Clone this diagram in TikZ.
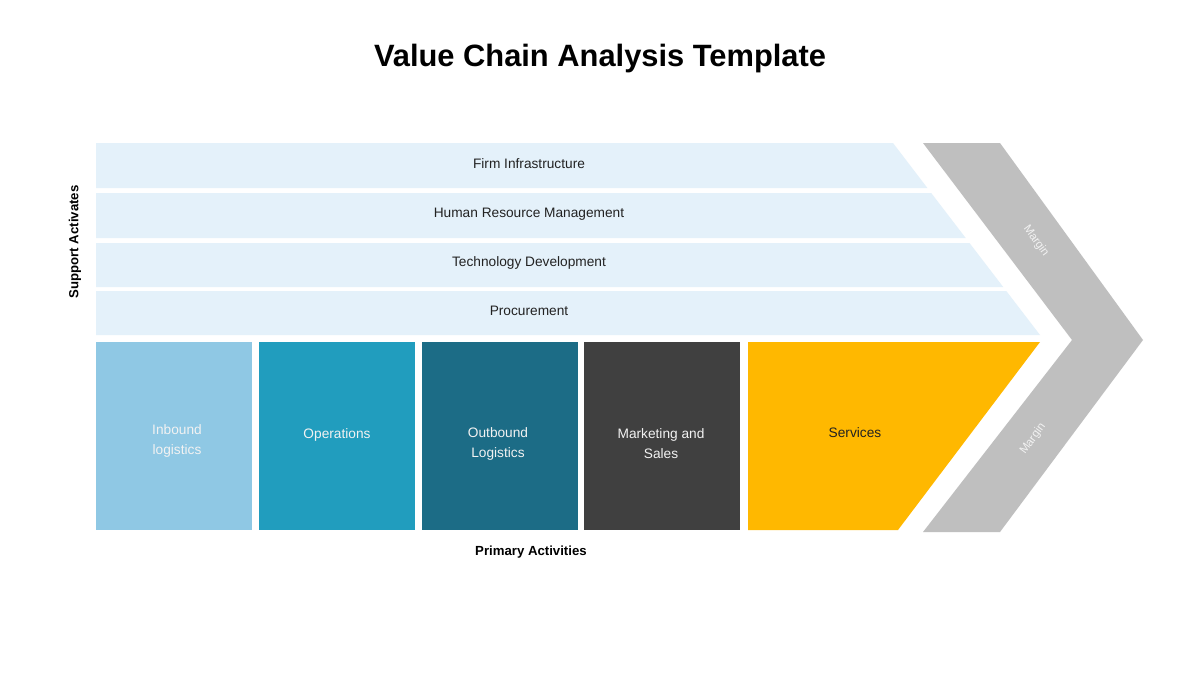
\documentclass[tikz,border=0pt]{standalone}
\usepackage{fontspec}
\setmainfont{Liberation Sans}
\usepackage{graphicx}
\definecolor{supbg}{HTML}{E4F1FA}
\definecolor{pinb}{HTML}{8FC8E4}
\definecolor{pops}{HTML}{219DBE}
\definecolor{pout}{HTML}{1C6C86}
\definecolor{pmkt}{HTML}{404040}
\definecolor{psrv}{HTML}{FFB800}
\definecolor{marg}{HTML}{BFBFBF}
\definecolor{txt}{HTML}{222222}
\definecolor{wtxt}{HTML}{F2F2F2}
\tikzset{
  suptext/.style={font=\fontsize{13.7}{15}\selectfont, text=txt, inner sep=0pt},
  primtext/.style={font=\fontsize{13.7}{20}\selectfont, text=wtxt, align=center, inner sep=0pt},
  margtext/.style={font=\fontsize{11.5}{13}\selectfont, text=wtxt, inner sep=0pt},
  axislabel/.style={font=\bfseries\fontsize{13.2}{15}\selectfont, text=black, inner sep=0pt},
}
\begin{document}
\begin{tikzpicture}[x=1pt,y=-1pt]
\useasboundingbox[fill=white] (0,0) rectangle (1200,675);
% title
\node[font=\bfseries\fontsize{28}{32}\selectfont, inner sep=0pt] (title) at (600,59) {\resizebox{452pt}{!}{Value Chain Analysis Template}};
% support bars
\fill[supbg] (96,143) -- (893,143) -- (927.4,188) -- (96,188) -- cycle;
\fill[supbg] (96,193) -- (931.2,193) -- (965.7,238) -- (96,238) -- cycle;
\fill[supbg] (96,243) -- (969.5,243) -- (1003.2,287) -- (96,287) -- cycle;
\fill[supbg] (96,291) -- (1006.3,291) -- (1040,335) -- (96,335) -- cycle;
\node[suptext] (firm) at (529,164) {Firm Infrastructure};
\node[suptext] (hrm) at (529,214) {Human Resource Management};
\node[suptext] (tech) at (529,263) {Technology Development};
\node[suptext] (proc) at (529,311) {Procurement};
% primary boxes
\fill[pinb] (96,342) rectangle (252,530);
\fill[pops] (259,342) rectangle (415,530);
\fill[pout] (422,342) rectangle (578,530);
\fill[pmkt] (584,342) rectangle (740,530);
\fill[psrv] (748,342) -- (1040,342) -- (898,530) -- (748,530) -- cycle;
\node[primtext] (inb) at (177,441) {Inbound\\logistics};
\node[primtext] (ops) at (337,435) {Operations};
\node[primtext] (outb) at (498,444) {Outbound\\Logistics};
\node[primtext] (mkt) at (661,444) {Marketing and\\Sales};
\node[primtext, text=txt] (srv) at (855,433) {Services};
% margin chevron
\fill[marg] (923,143) -- (1000,143) -- (1143,340) -- (1000,532) -- (923,532) -- (1072,340) -- cycle;
\node[margtext, rotate=-54] (m1) at (1036,241) {Margin};
\node[margtext, rotate=54] (m2) at (1033,439) {Margin};
% axis labels
\node[axislabel, rotate=90] (sup) at (75,242) {Support Activates};
\node[axislabel] (prim) at (531,552) {Primary Activities};
\end{tikzpicture}
\end{document}
